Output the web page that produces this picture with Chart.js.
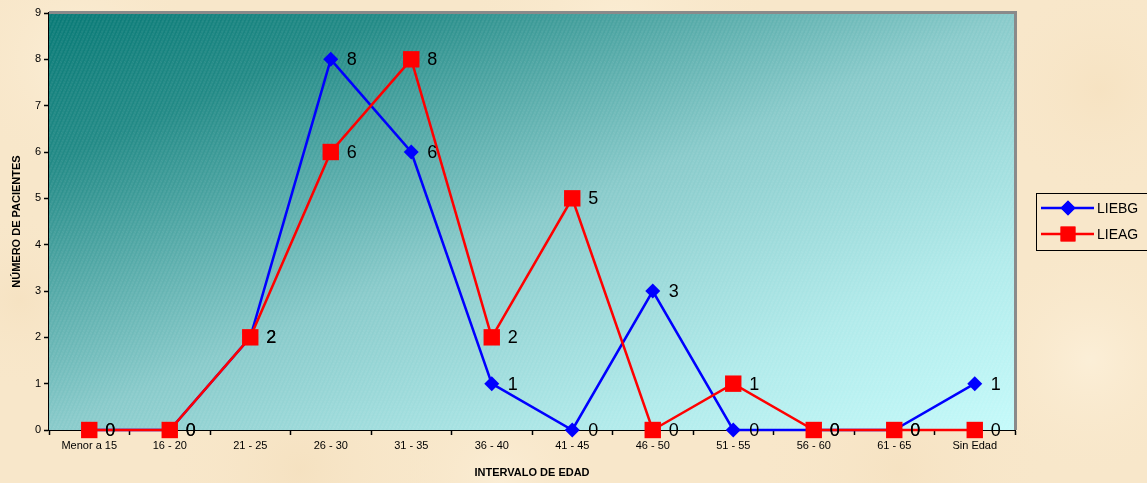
<!DOCTYPE html>
<html>
<head>
<meta charset="utf-8">
<script src="https://cdn.jsdelivr.net/npm/chart.js@4/dist/chart.umd.min.js"></script>
<style>
  html, body { margin: 0; padding: 0; background: #f8e7ca; }
  #wrap { width: 1147px; height: 483px; position: relative; }
</style>
</head>
<body>
<div id="wrap"><canvas id="c" width="1147" height="483"></canvas></div>
<script>
// Age intervals and patient counts per group
const categories = ['Menor a 15', '16 - 20', '21 - 25', '26 - 30', '31 - 35', '36 - 40',
                    '41 - 45', '46 - 50', '51 - 55', '56 - 60', '61 - 65', 'Sin Edad'];
const liebg = [0, 0, 2, 8, 6, 1, 0, 3, 0, 0, 0, 1];
const lieag = [0, 0, 2, 6, 8, 2, 5, 0, 1, 0, 0, 0];
const yTicks = [0, 1, 2, 3, 4, 5, 6, 7, 8, 9];

const FONT = '"Liberation Sans", Arial, sans-serif';

// Parchment-like page background
const paperBackground = {
  id: 'paperBackground',
  beforeDraw(chart) {
    const { ctx, width, height } = chart;
    ctx.save();
    ctx.fillStyle = '#f8e7ca';
    ctx.fillRect(0, 0, width, height);
    const blots = [
      [80, 60, 120, 'rgba(255,245,225,0.55)'], [300, 470, 140, 'rgba(240,215,175,0.35)'],
      [620, 30, 160, 'rgba(255,244,222,0.45)'], [900, 470, 150, 'rgba(242,218,180,0.35)'],
      [1100, 90, 110, 'rgba(244,220,182,0.4)'], [1090, 360, 120, 'rgba(255,246,228,0.5)'],
      [20, 300, 90, 'rgba(242,218,180,0.35)'], [500, 480, 100, 'rgba(255,246,228,0.4)']
    ];
    for (const [x, y, r, c] of blots) {
      const g = ctx.createRadialGradient(x, y, 0, x, y, r);
      g.addColorStop(0, c);
      g.addColorStop(1, 'rgba(248,231,202,0)');
      ctx.fillStyle = g;
      ctx.fillRect(0, 0, width, height);
    }
    ctx.restore();
  }
};

// Diagonal teal-to-cyan fill of the plot area, with fine light hatching
const plotFill = {
  id: 'plotFill',
  beforeDatasetsDraw(chart) {
    const { ctx, chartArea: a } = chart;
    const w = a.right - a.left, h = a.bottom - a.top;
    ctx.save();
    ctx.beginPath();
    ctx.rect(a.left, a.top, w, h);
    ctx.clip();
    ctx.save();
    ctx.translate(a.left, a.top);
    ctx.scale(w, h);
    const g = ctx.createLinearGradient(0, 0, 1, 1);
    g.addColorStop(0.00, 'rgb(8,122,118)');
    g.addColorStop(0.18, 'rgb(34,138,134)');
    g.addColorStop(0.50, 'rgb(136,202,202)');
    g.addColorStop(0.78, 'rgb(176,234,234)');
    g.addColorStop(1.00, 'rgb(196,250,250)');
    ctx.fillStyle = g;
    ctx.fillRect(0, 0, 1, 1);
    ctx.restore();
    const run = h / 0.35;
    ctx.strokeStyle = 'rgba(255,255,255,0.09)';
    ctx.lineWidth = 1;
    ctx.setLineDash([3, 2]);
    for (let x0 = a.left - run - 10; x0 < a.right + 10; x0 += 4) {
      ctx.beginPath();
      ctx.moveTo(x0, a.bottom);
      ctx.lineTo(x0 + run, a.top);
      ctx.stroke();
    }
    ctx.restore();
    // gray frame on top and right
    ctx.save();
    ctx.strokeStyle = '#8a8a8a';
    ctx.lineWidth = 3;
    ctx.beginPath();
    ctx.moveTo(a.left, a.top - 0.5);
    ctx.lineTo(a.right + 0.5, a.top - 0.5);
    ctx.lineTo(a.right + 0.5, a.bottom);
    ctx.stroke();
    ctx.restore();
  }
};

// Value labels to the right of each point
const valueLabels = {
  id: 'valueLabels',
  afterDatasetsDraw(chart) {
    const { ctx } = chart;
    ctx.save();
    ctx.font = '18px ' + FONT;
    ctx.fillStyle = '#000';
    ctx.textAlign = 'left';
    ctx.textBaseline = 'middle';
    chart.data.datasets.forEach((ds, i) => {
      const meta = chart.getDatasetMeta(i);
      meta.data.forEach((pt, j) => {
        ctx.fillText(String(ds.data[j]), pt.x + 16, pt.y + 1);
      });
    });
    ctx.restore();
  }
};

// Boxed legend on the right
const sideLegend = {
  id: 'sideLegend',
  afterDraw(chart) {
    const { ctx } = chart;
    const x = 1036, y = 193, w = 120, h = 57;
    ctx.save();
    ctx.strokeStyle = '#000';
    ctx.lineWidth = 1;
    ctx.strokeRect(x + 0.5, y + 0.5, w, h);
    const rows = [
      { label: 'LIEBG', color: '#0000ff', style: 'rectRot', r: 7.5, y: 208 },
      { label: 'LIEAG', color: '#ff0000', style: 'rect', r: 10.5, y: 234 }
    ];
    ctx.font = '14px ' + FONT;
    ctx.textBaseline = 'middle';
    for (const row of rows) {
      ctx.strokeStyle = row.color;
      ctx.lineWidth = 2.5;
      ctx.beginPath();
      ctx.moveTo(1041, row.y);
      ctx.lineTo(1094, row.y);
      ctx.stroke();
      ctx.fillStyle = row.color;
      Chart.helpers.drawPoint(ctx, { pointStyle: row.style, radius: row.r, borderWidth: 0, rotation: 0 }, 1068, row.y);
      ctx.fill();
      ctx.fillStyle = '#000';
      ctx.fillText(row.label, 1097, row.y + 1);
    }
    ctx.restore();
  }
};

new Chart(document.getElementById('c'), {
  type: 'line',
  data: {
    labels: categories,
    datasets: [
      {
        label: 'LIEBG', data: liebg, order: 1, clip: false,
        borderColor: '#0000ff', backgroundColor: '#0000ff', borderWidth: 2.5,
        pointStyle: 'rectRot', pointRadius: 7.5, pointBorderWidth: 0, pointHoverRadius: 7.5,
        tension: 0, fill: false
      },
      {
        label: 'LIEAG', data: lieag, order: 0, clip: false,
        borderColor: '#ff0000', backgroundColor: '#ff0000', borderWidth: 2.5,
        pointStyle: 'rect', pointRadius: 11.6, pointBorderWidth: 0, pointHoverRadius: 11.6,
        tension: 0, fill: false
      }
    ]
  },
  options: {
    responsive: false,
    animation: false,
    events: [],
    layout: { padding: { top: 13, right: 132, left: 0, bottom: 0 } },
    plugins: { legend: { display: false }, tooltip: { enabled: false } },
    scales: {
      x: {
        type: 'category',
        offset: true,
        grid: { display: true, drawOnChartArea: false, offset: true, color: '#000', tickLength: 5, tickWidth: 1.5 },
        border: { display: true, color: '#000', width: 2 },
        ticks: { color: '#000', font: { family: FONT, size: 11 }, padding: 4, maxRotation: 0, autoSkip: false },
        title: { display: true, text: 'INTERVALO DE EDAD', color: '#000',
                 font: { family: FONT, size: 11, weight: 'bold' }, padding: { top: 0, bottom: 3 } },
        afterFit(s) { s.height = 53; }
      },
      y: {
        min: 0, max: 9,
        afterBuildTicks(s) { s.ticks = yTicks.map(v => ({ value: v })); },
        grid: { display: true, drawOnChartArea: false, color: '#000', tickLength: 5, tickWidth: 1.5 },
        border: { display: true, color: '#000', width: 2 },
        ticks: { color: '#000', font: { family: FONT, size: 11 }, padding: 3 },
        title: { display: true, text: 'NÚMERO DE PACIENTES', color: '#000',
                 font: { family: FONT, size: 11, weight: 'bold' }, padding: { top: 10, bottom: 0 } },
        afterFit(s) { s.width = 49; }
      }
    }
  },
  plugins: [paperBackground, plotFill, valueLabels, sideLegend]
});
</script>
</body>
</html>
